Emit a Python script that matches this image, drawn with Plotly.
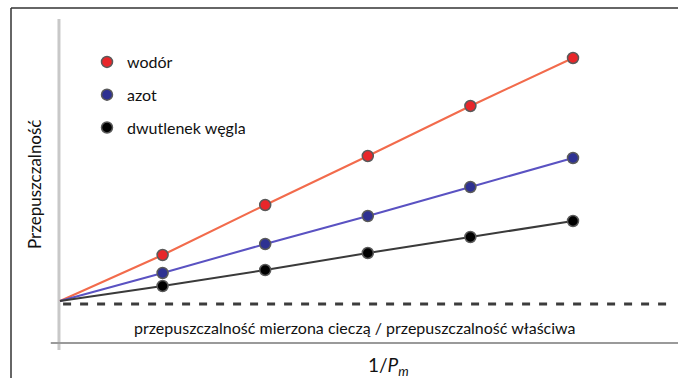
import plotly.graph_objects as go

x_vals = [0, 1, 2, 3, 4, 5]
wodor = [0, 4.6, 9.6, 14.5, 19.5, 24.3]
azot = [0, 2.8, 5.7, 8.5, 11.4, 14.3]
co2 = [0, 1.5, 3.1, 4.8, 6.4, 8.0]
names = ["wodór", "azot", "dwutlenek węgla"]
baseline = -0.3
baseline_x = [0.03, 5.92]

series = [wodor, azot, co2]
line_colors = ["#f26b4c", "#5a52c2", "#3a3a3a"]
marker_colors = ["#e8262a", "#2e3192", "#000000"]

FONT = "Lato"
fig = go.Figure()

for ys, nm, lc, mc in zip(series, names, line_colors, marker_colors):
    fig.add_trace(go.Scatter(x=x_vals, y=ys, mode="lines",
                             line=dict(color=lc, width=2), showlegend=False,
                             hoverinfo="skip"))
for i, (ys, nm, mc) in enumerate(zip(series, names, marker_colors)):
    fig.add_trace(go.Scatter(x=x_vals[1:], y=ys[1:], mode="markers", name=nm,
                             legendgroup=str(i),
                             marker=dict(color=mc, size=11,
                                         line=dict(color="#5a5a5a", width=1.5))))

fig.add_trace(go.Scatter(x=baseline_x, y=[baseline, baseline], mode="lines",
                         line=dict(color="#3c3c3c", width=3, dash="8px,9px"),
                         showlegend=False, hoverinfo="skip"))

shapes = [
    # y axis (light gray)
    dict(type="line", xref="x", yref="y", x0=-0.01, x1=-0.01, y0=28.2, y1=-4.9,
         line=dict(color="#c8c8c8", width=3), layer="below"),
    # x axis
    dict(type="line", xref="x", yref="y", x0=-0.09, x1=6.1, y0=-4.2, y1=-4.2,
         line=dict(color="#9a9a9a", width=2), layer="below"),
    # frame
    dict(type="line", xref="paper", yref="paper", x0=11/678, x1=1, y0=1-8/378, y1=1-8/378,
         line=dict(color="#666666", width=2)),
    dict(type="line", xref="paper", yref="paper", x0=11/678, x1=11/678, y0=0, y1=1-8/378,
         line=dict(color="#333333", width=1.5)),
]

annotations = [
    dict(text="przepuszczalność mierzona cieczą / przepuszczalność właściwa",
         xref="paper", yref="paper", x=355/678, y=1-327/378, showarrow=False,
         font=dict(family=FONT, size=16, color="#111111"), xanchor="center", yanchor="middle"),
    dict(text="1/<i>P</i><sub><i>m</i></sub>",
         xref="paper", yref="paper", x=388/678, y=1-366/378, showarrow=False,
         font=dict(family=FONT, size=19, color="#111111"), xanchor="center", yanchor="middle"),
    dict(text="Przepuszczalność", textangle=-90,
         xref="paper", yref="paper", x=34/678, y=1-184/378, showarrow=False,
         font=dict(family=FONT, size=17, color="#111111"), xanchor="center", yanchor="middle"),
]

fig.update_layout(
    width=678, height=378, margin=dict(l=0, r=0, t=0, b=0),
    paper_bgcolor="white", plot_bgcolor="white",
    xaxis=dict(range=[-60/102.6, 618/102.6], visible=False, fixedrange=True),
    yaxis=dict(range=[-7.7, 30.1], visible=False, fixedrange=True),
    shapes=shapes, annotations=annotations,
    legend=dict(x=87/678, y=1-45/378, xanchor="left", yanchor="top",
                font=dict(family=FONT, size=16, color="#111111"),
                bgcolor="rgba(0,0,0,0)", tracegroupgap=9, traceorder="grouped"),
)

fig.write_html("out.html")
